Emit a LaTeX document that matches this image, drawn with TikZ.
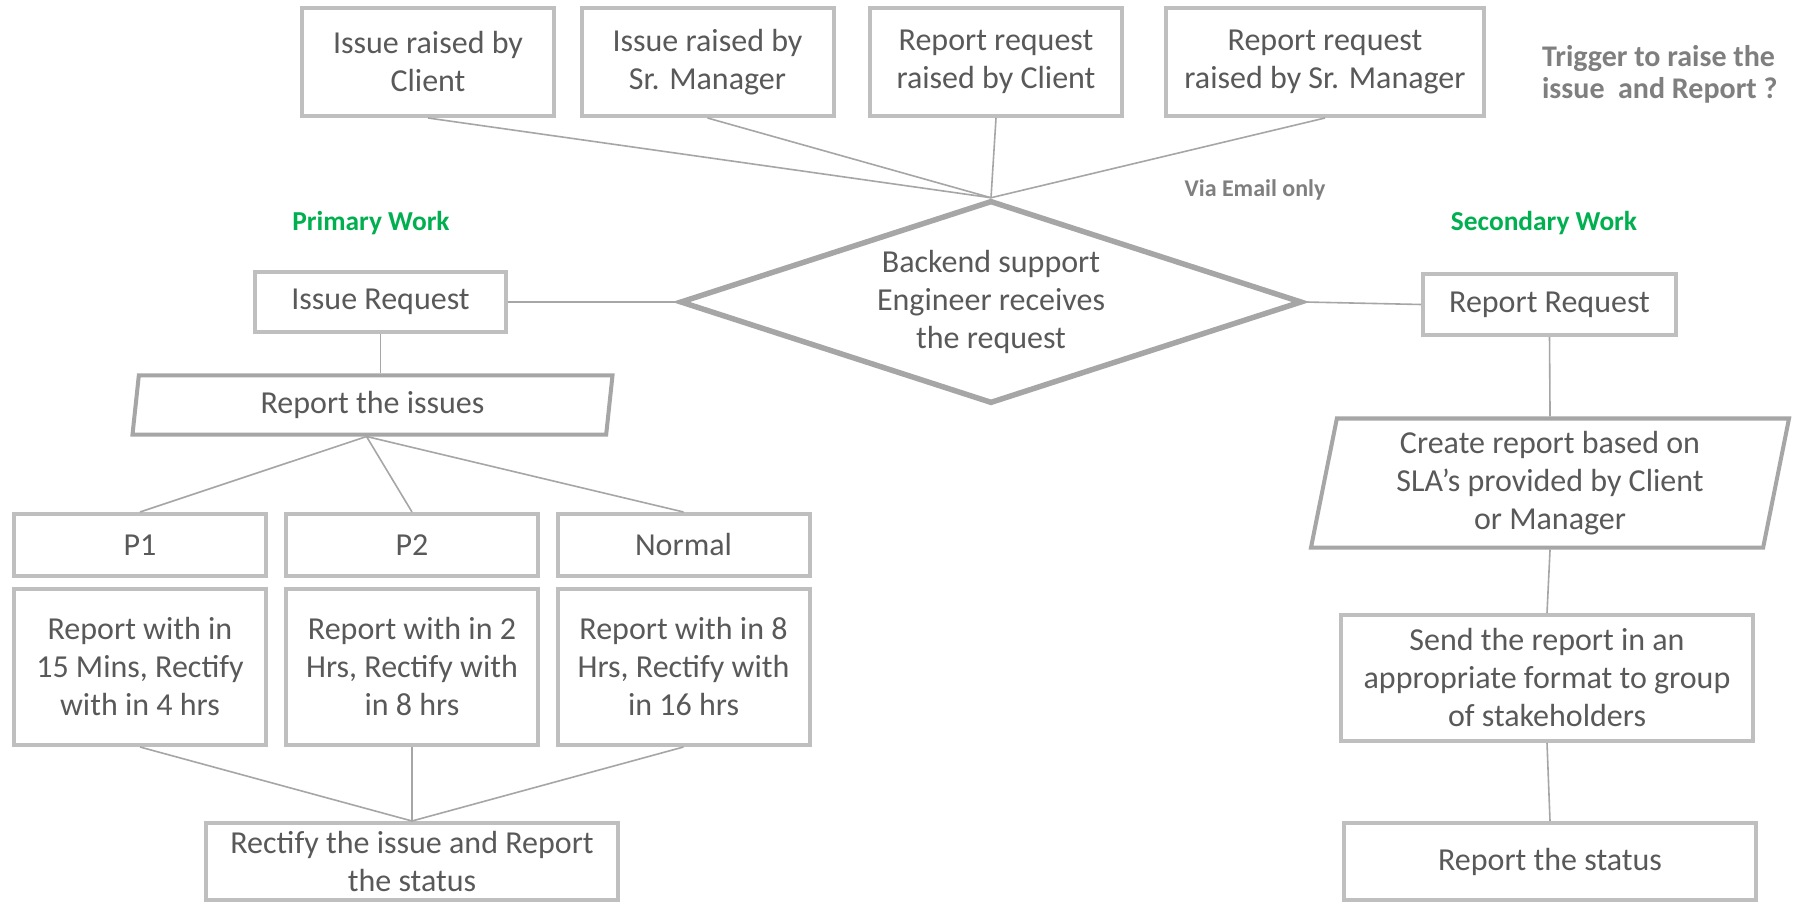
\documentclass[tikz,border=0pt]{standalone}
\usepackage{fontspec}
\setmainfont{Carlito}
\usepackage{tikz}
\usetikzlibrary{shapes.geometric}
\definecolor{txtgray}{HTML}{595959}
\definecolor{boxgray}{HTML}{BFBFBF}
\definecolor{linegray}{HTML}{A6A6A6}
\definecolor{notegray}{HTML}{7F7F7F}
\definecolor{workgreen}{HTML}{00B050}

\begin{document}
\begin{tikzpicture}[x=0.5pt, y=-0.5pt,
    box/.style={draw=boxgray, line width=2pt, rectangle, minimum width=126pt, minimum height=31pt, inner sep=0pt, align=center, text=txtgray, font=\fontsize{16}{19}\selectfont},
    para/.style={draw=linegray, line width=2pt, trapezium, trapezium stretches body, inner sep=0pt, align=center, text=txtgray, font=\fontsize{16}{19}\selectfont},
    decision/.style={draw=linegray, line width=2.75pt, diamond, aspect=3, inner sep=0pt, align=center, text=txtgray, font=\fontsize{16}{19}\selectfont},
    link/.style={draw=linegray, line width=0.8pt},
    worklabel/.style={text=workgreen, font=\fontsize{13.7}{15}\selectfont\bfseries},
    note/.style={text=notegray, font=\fontsize{15}{16}\selectfont\bfseries}]

    \fill[white] (0,0) rectangle (1798,903);

    % Trigger boxes
    \node[box, minimum height=54pt] (ircl) at (428,62) {Issue raised by\\Client};
    \node[box, minimum height=54pt] (ismg) at (707.5,62) {Issue raised by\\Sr. Manager};
    \node[box, minimum height=54pt] (rrcl) at (996,62) {Report request\\raised by Client};
    \node[box, minimum height=54pt, minimum width=159pt] (rrsm) at (1325,62) {Report request\\raised by Sr. Manager};
    \node[note, align=left, anchor=west] (trigger) at (1535,74) {Trigger to raise the\\issue\ \ and Report ?};

    % Receiver
    \node[decision, minimum width=311pt, minimum height=101.5pt] (backend) at (991,302) {Backend support\\Engineer receives\\the request};
    \node[note, font=\fontsize{12}{14}\selectfont\bfseries] (email) at (1255,190) {Via Email only};
    \node[worklabel] (primary) at (371,223) {Primary Work};
    \node[worklabel] (secondary) at (1544,223) {Secondary Work};

    % Primary work
    \node[box, minimum width=125.5pt, minimum height=30pt] (issuereq) at (380.5,302) {Issue Request};
    \node[para, trapezium left angle=77, trapezium right angle=103, minimum width=240pt, minimum height=29.5pt] (issues) at (372.5,405) {Report the issues};
    \node[box] (pone) at (140,545) {P1};
    \node[box] (ptwo) at (412,545) {P2};
    \node[box] (pnorm) at (683.5,545) {Normal};
    \node[box, minimum height=78pt] (ponetime) at (140,667) {Report with in\\15 Mins, Rectify\\with in 4 hrs};
    \node[box, minimum height=78pt] (ptwotime) at (412,667) {Report with in 2\\Hrs, Rectify with\\in 8 hrs};
    \node[box, minimum height=78pt] (pnormtime) at (683.5,667) {Report with in 8\\Hrs, Rectify with\\in 16 hrs};
    \node[box, minimum width=206pt, minimum height=38.5pt] (rectify) at (412,861.5) {Rectify the issue and Report\\the status};

    % Secondary work
    \node[box, minimum width=126.5pt, minimum height=30.5pt] (reportreq) at (1549.5,304.5) {Report Request};
    \node[para, trapezium left angle=76, trapezium right angle=104, minimum width=239pt, minimum height=64.5pt] (create) at (1550,483) {Create report based on\\SLA’s provided by Client\\or Manager};
    \node[box, minimum width=206pt, minimum height=63pt] (send) at (1547,678) {Send the report in an\\appropriate format to group\\of stakeholders};
    \node[box, minimum width=206pt, minimum height=38.5pt] (status) at (1550,861.5) {Report the status};

    % Connectors
    \foreach \src in {ircl,ismg,rrcl,rrsm}
        \draw[link] (\src.south) -- (backend.north);
    \draw[link] (issuereq.east) -- (backend.west);
    \draw[link] (backend.east) -- (reportreq.west);
    \draw[link] (issuereq.south) -- (issuereq.south |- issues.north);
    \foreach \dst in {pone,ptwo,pnorm}
        \draw[link] ([xshift=-3pt]issues.south) -- (\dst.north);
    \foreach \src in {ponetime,ptwotime,pnormtime}
        \draw[link] (\src.south) -- (rectify.north);
    \draw[link] (reportreq.south) -- (create.north);
    \draw[link] (create.south) -- (send.north);
    \draw[link] (send.south) -- (status.north);
\end{tikzpicture}
\end{document}
